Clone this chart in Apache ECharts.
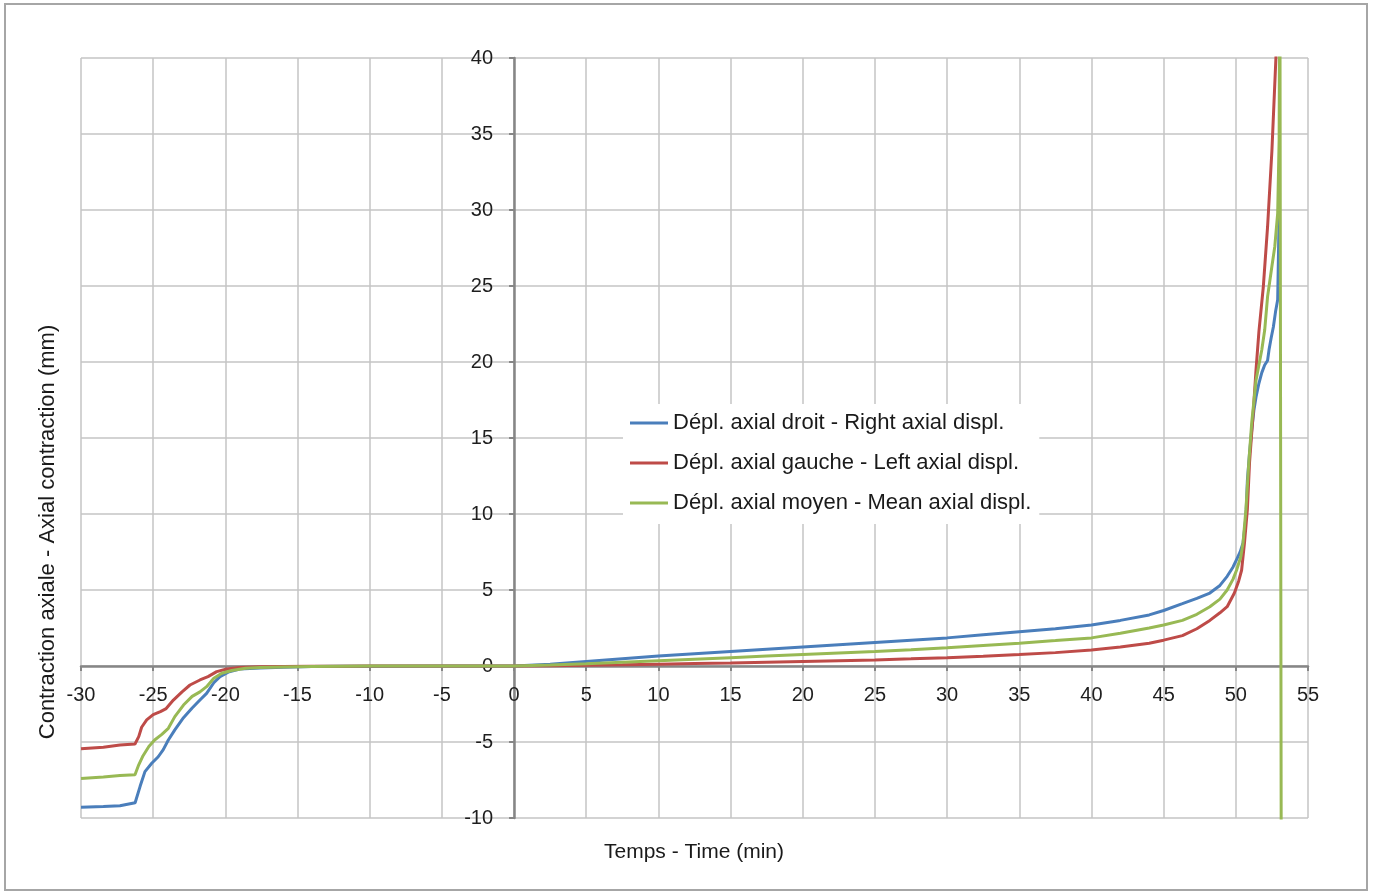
<!DOCTYPE html>
<html>
<head>
<meta charset="utf-8">
<title>Contraction axiale - Axial contraction</title>
<script src="https://cdn.jsdelivr.net/npm/echarts@6/dist/echarts.min.js"></script>
<style>
  html, body { margin: 0; padding: 0; background: #ffffff; }
  #chart { width: 1373px; height: 896px; }
</style>
</head>
<body>
<div id="chart"></div>
<script>
// Axial displacement measured on the right side (mm) against time (min)
const timeRight = [-30, -28.45, -27.3, -26.25, -25.9, -25.57, -25.1, -24.65, -24.3, -23.95, -23.5, -22.9, -22.3, -21.76, -21.3, -20.8, -20.37, -19.8, -19, -17.6, -16, -14, -12, -10, -5, 0,
  2.5, 5, 7.5, 10, 12.5, 15, 17.5, 20, 22.5, 25, 27.5, 30, 32.5, 35, 37.5, 40, 42, 44, 45, 46.3, 47.3, 48.2, 48.9, 49.4, 49.8, 50.05, 50.3, 50.5, 50.7, 50.8, 50.95, 51.1, 51.25, 51.4, 51.6, 51.8, 52.0, 52.2, 52.3, 52.45, 52.6, 52.75, 52.9, 53.0];
const dispRight = [-9.3, -9.25, -9.2, -9.0, -7.9, -6.95, -6.4, -5.97, -5.5, -4.87, -4.2, -3.4, -2.76, -2.24, -1.8, -1.1, -0.7, -0.4, -0.2, -0.13, -0.08, -0.04, -0.02, -0.01, 0, 0,
  0.12, 0.3, 0.48, 0.65, 0.8, 0.95, 1.1, 1.25, 1.4, 1.55, 1.7, 1.85, 2.05, 2.25, 2.45, 2.7, 3.0, 3.36, 3.65, 4.1, 4.45, 4.8, 5.3, 5.9, 6.5, 7.0, 7.5, 8.1, 9.8, 12.2, 14.0, 15.5, 16.8, 17.7, 18.6, 19.3, 19.8, 20.1, 20.8, 21.6, 22.3, 23.3, 24.1, 29.6];

// Axial displacement measured on the left side (mm)
const timeLeft = [-30, -28.45, -27.3, -26.26, -26.0, -25.8, -25.45, -25.0, -24.5, -24.1, -23.6, -23.0, -22.45, -21.76, -21.2, -20.6, -19.9, -19.0, -17.6, -16, -14, -12, -10, -5, 0,
  2.5, 5, 7.5, 10, 12.5, 15, 17.5, 20, 22.5, 25, 27.5, 30, 32.5, 35, 37.5, 40, 42, 44, 45, 46.3, 47.3, 48.2, 48.9, 49.4, 49.9, 50.2, 50.4, 50.6, 50.8, 50.95, 51.2, 51.4, 51.6, 51.9, 52.2, 52.5, 52.8, 52.95];
const dispLeft = [-5.45, -5.35, -5.2, -5.13, -4.65, -4.03, -3.55, -3.2, -3.0, -2.8, -2.24, -1.7, -1.25, -0.92, -0.7, -0.37, -0.2, -0.1, -0.05, -0.03, -0.02, -0.01, 0, 0, 0,
  0.02, 0.05, 0.08, 0.12, 0.16, 0.2, 0.25, 0.3, 0.35, 0.4, 0.47, 0.55, 0.64, 0.75, 0.88, 1.05, 1.25, 1.5, 1.7, 2.0, 2.45, 3.0, 3.5, 3.9, 4.8, 5.6, 6.3, 8.1, 10.3, 13.4, 16.6, 19.5, 22.0, 24.9, 28.9, 33.9, 40.5, 46];

// Mean axial displacement (mm)
const timeMean = [-30, -28.45, -27.3, -26.26, -26.0, -25.7, -25.3, -24.9, -24.4, -23.95, -23.5, -22.9, -22.3, -21.76, -21.3, -20.8, -20.25, -19.55, -18.6, -17.6, -16, -14, -12, -10, -5, 0,
  2.5, 5, 7.5, 10, 12.5, 15, 17.5, 20, 22.5, 25, 27.5, 30, 32.5, 35, 37.5, 40, 42, 44, 45, 46.3, 47.3, 48.2, 48.9, 49.4, 49.8, 50.05, 50.35, 50.5, 50.7, 50.9, 51.1, 51.4, 51.8, 52.0, 52.2, 52.5, 52.7, 52.9, 53.0, 53.05, 53.15];
const dispMean = [-7.4, -7.3, -7.2, -7.15, -6.5, -5.9, -5.3, -4.87, -4.5, -4.1, -3.33, -2.57, -2.0, -1.7, -1.36, -0.8, -0.48, -0.3, -0.15, -0.1, -0.06, -0.03, -0.015, -0.005, 0, 0,
  0.07, 0.15, 0.25, 0.35, 0.45, 0.55, 0.65, 0.75, 0.85, 0.95, 1.07, 1.2, 1.35, 1.5, 1.67, 1.85, 2.15, 2.5, 2.7, 3.0, 3.4, 3.9, 4.4, 5.0, 5.7, 6.3, 7.2, 8.1, 10.3, 13.4, 16.0, 18.8, 20.8, 22.1, 24.3, 26.3, 27.6, 29.8, 34.6, 48, -15];

const seriesNames = [
  'Dépl. axial droit - Right axial displ.',
  'Dépl. axial gauche - Left axial displ.',
  'Dépl. axial moyen - Mean axial displ.'
];
const seriesColors = ['#4a7ebb', '#be4b48', '#98b954'];

const xTitle = 'Temps - Time (min)';
const yTitle = 'Contraction axiale - Axial contraction (mm)';

const FONT = "'Liberation Sans', Arial, sans-serif";

function pairs(xs, ys) {
  return xs.map((x, i) => [x, ys[i]]);
}

const seriesData = [
  pairs(timeRight, dispRight),
  pairs(timeLeft, dispLeft),
  pairs(timeMean, dispMean)
];

const GRID = { left: 81, top: 58, right: 65, bottom: 78 };

const chart = echarts.init(document.getElementById('chart'), null, { renderer: 'canvas' });

chart.setOption({
  animation: false,
  backgroundColor: '#ffffff',
  textStyle: { fontFamily: FONT },
  grid: Object.assign({ containLabel: false }, GRID),
  xAxis: {
    type: 'value',
    position: 'bottom',
    min: -30, max: 55, interval: 5,
    axisLine: { onZero: false, lineStyle: { color: '#868686', width: 2.5 } },
    axisTick: { show: true, inside: false, length: 5, lineStyle: { color: '#868686', width: 2 } },
    axisLabel: { margin: 19, fontSize: 20, color: '#1e1e1e', fontFamily: FONT, hideOverlap: false },
    splitLine: { show: true, lineStyle: { color: '#c4c4c4', width: 1.5 } }
  },
  yAxis: {
    type: 'value',
    position: 'left',
    min: -10, max: 40, interval: 5,
    axisLine: { onZero: false, lineStyle: { color: '#868686', width: 2.5 } },
    axisTick: { show: true, inside: false, length: 5, lineStyle: { color: '#868686', width: 2 } },
    axisLabel: { margin: 21, fontSize: 20, color: '#1e1e1e', fontFamily: FONT, hideOverlap: false },
    splitLine: { show: true, lineStyle: { color: '#c4c4c4', width: 1.5 } }
  },
  legend: {
    orient: 'vertical',
    left: 623, top: 404,
    padding: [7, 8, 9, 7],
    backgroundColor: '#ffffff',
    itemWidth: 38, itemHeight: 3, itemGap: 16,
    icon: 'rect',
    textStyle: { fontSize: 22, color: '#1a1a1a', lineHeight: 24, fontFamily: FONT },
    data: seriesNames
  },
  series: seriesNames.map((name, i) => ({
    name: name,
    type: 'line',
    data: seriesData[i],
    showSymbol: false,
    symbol: 'none',
    smooth: false,
    clip: true,
    color: seriesColors[i],
    lineStyle: { color: seriesColors[i], width: 3 },
    z: 3 + i
  })),
  graphic: [
    {
      type: 'rect',
      silent: true,
      shape: { x: 5, y: 4, width: 1362, height: 886 },
      style: { fill: 'none', stroke: '#a6a6a6', lineWidth: 2 },
      z: 0
    },
    {
      type: 'text',
      silent: true,
      x: 694, y: 852,
      style: {
        text: xTitle, font: '21px ' + FONT, fill: '#1a1a1a',
        align: 'center', verticalAlign: 'middle',
        textAlign: 'center', textVerticalAlign: 'middle'
      }
    },
    {
      type: 'text',
      silent: true,
      x: 48, y: 532,
      rotation: Math.PI / 2,
      style: {
        text: yTitle, font: '22px ' + FONT, fill: '#1a1a1a',
        align: 'center', verticalAlign: 'middle',
        textAlign: 'center', textVerticalAlign: 'middle'
      }
    }
  ]
});

// Both axes cross at the origin: shift each whole axis (line, ticks, labels)
// onto the zero of the other axis, using the pixel position of (0, 0).
const origin = chart.convertToPixel({ gridIndex: 0 }, [0, 0]);
const plotBottom = 896 - GRID.bottom;
chart.setOption({
  xAxis: { offset: origin[1] - plotBottom },
  yAxis: { offset: GRID.left - origin[0] }
});
</script>
</body>
</html>
